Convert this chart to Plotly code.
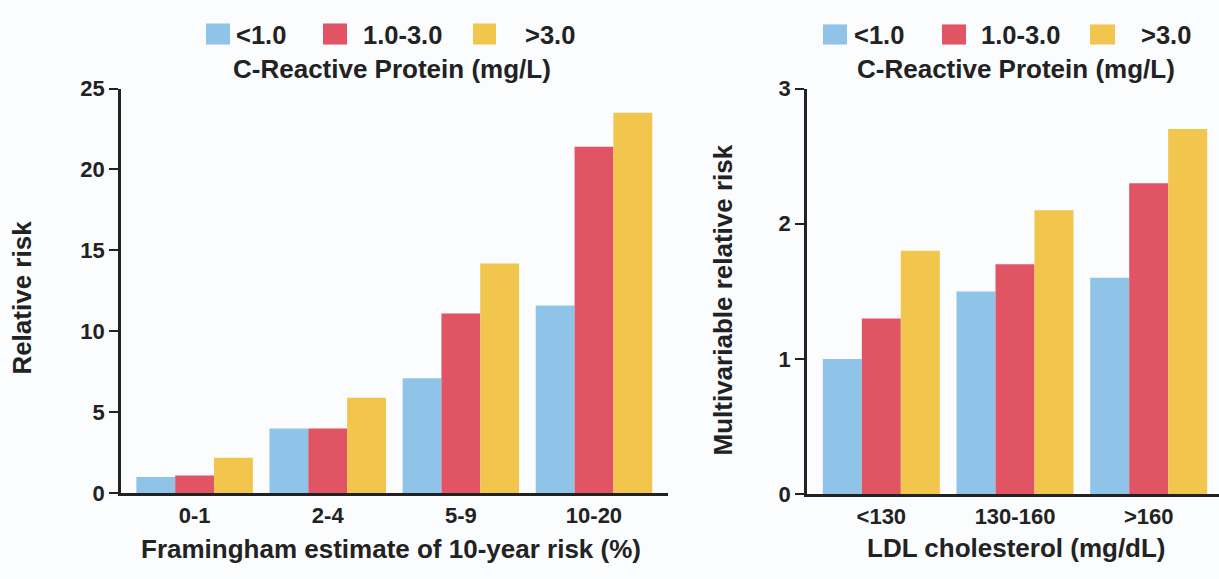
import plotly.graph_objects as go

# ---------------- data ----------------
crp_groups = ["<1.0", "1.0-3.0", ">3.0"]
colors = ["#8fc3e7", "#e05463", "#f2c54c"]

fram_categories = ["0-1", "2-4", "5-9", "10-20"]
fram_lt1 = [1.0, 4.0, 7.1, 11.6]
fram_1to3 = [1.1, 4.0, 11.1, 21.4]
fram_gt3 = [2.2, 5.9, 14.2, 23.5]

ldl_categories = ["<130", "130-160", ">160"]
ldl_lt1 = [1.0, 1.5, 1.6]
ldl_1to3 = [1.3, 1.7, 2.3]
ldl_gt3 = [1.8, 2.1, 2.7]

left_yticks = [0, 5, 10, 15, 20, 25]
right_yticks = [0, 1, 2, 3]

legend_title = "C-Reactive Protein (mg/L)"
left_xtitle = "Framingham estimate of 10-year risk (%)"
left_ytitle = "Relative risk"
right_xtitle = "LDL cholesterol (mg/dL)"
right_ytitle = "Multivariable relative risk"

# ---------------- layout helpers ----------------
W, H = 1219, 579
FONT = "Liberation Sans, Arial, Helvetica, sans-serif"
INK = "#222222"


def px(x):
    return x / W


def py(y):
    return 1 - y / H


fig = go.Figure()

left_series = [fram_lt1, fram_1to3, fram_gt3]
right_series = [ldl_lt1, ldl_1to3, ldl_gt3]

for name, vals, col in zip(crp_groups, left_series, colors):
    fig.add_trace(go.Bar(x=fram_categories, y=vals, name=name, marker_color=col,
                         marker_line_width=0, xaxis="x", yaxis="y",
                         showlegend=False, legendgroup=name))
for name, vals, col in zip(crp_groups, right_series, colors):
    fig.add_trace(go.Bar(x=ldl_categories, y=vals, name=name, marker_color=col,
                         marker_line_width=0, xaxis="x2", yaxis="y2",
                         showlegend=False, legendgroup=name))

common_x = dict(showgrid=False, zeroline=False, showline=True, linecolor=INK,
                linewidth=2.5, ticks="", ticklabelstandoff=1,
                tickfont=dict(family=FONT, size=22, color=INK, weight="bold"),
                fixedrange=True)
common_y = dict(showgrid=False, zeroline=False, showline=True, linecolor=INK,
                linewidth=2.5, ticks="outside", ticklen=9, tickwidth=2, tickcolor=INK,
                tickfont=dict(family=FONT, size=22, color=INK, weight="bold"),
                ticklabelstandoff=0, fixedrange=True)

fig.update_layout(
    width=W, height=H,
    margin=dict(l=0, r=0, t=0, b=0),
    paper_bgcolor="#fafcfd", plot_bgcolor="#fafcfd",
    barmode="group", bargap=0.125, bargroupgap=0,
    font=dict(family=FONT, color=INK),
    xaxis=dict(domain=[px(121), px(668)], range=[-0.553, 3.556], anchor="y",
               **common_x),
    yaxis=dict(domain=[py(503), py(80)], range=[0, 25], tickvals=left_yticks,
               anchor="x", **common_y),
    xaxis2=dict(domain=[px(807), 1.0], range=[-0.556, 2.526], anchor="y2",
                **common_x),
    yaxis2=dict(domain=[py(504), py(80)], range=[0, 3], tickvals=right_yticks,
                anchor="x2", **common_y),
)

annotations = []
shapes = []


def text(x, y, s, size, anchor="center", angle=0):
    annotations.append(dict(x=px(x), y=py(y), xref="paper", yref="paper", text=s,
                            showarrow=False, xanchor=anchor, yanchor="middle",
                            textangle=angle,
                            font=dict(family=FONT, size=size, color=INK, weight="bold")))


# legends (drawn as squares + labels)
legend_specs = [
    ([(206, 230), (323, 347), (473, 496)], [234, 361, 523], (12, 34), 391.5),
    ([(823, 847), (942, 966), (1090, 1115)], [852, 979, 1139], (13, 34), 1015.5),
]
for squares, labx, (y0, y1), tcx in legend_specs:
    for (x0, x1), lx, col, name in zip(squares, labx, colors, crp_groups):
        shapes.append(dict(type="rect", xref="paper", yref="paper",
                           x0=px(x0), x1=px(x1), y0=py(y1), y1=py(y0),
                           fillcolor=col, line_width=0))
        text(lx, (y0 + y1) / 2 + 1, name, 25.5, anchor="left")
    text(tcx, 60, legend_title, 26)

# axis titles
text(391, 561, left_xtitle, 26)
text(1016, 560, right_xtitle, 26)
text(22, 298.5, left_ytitle, 26, angle=-90)
text(723, 301.5, right_ytitle, 26, angle=-90)

fig.update_layout(annotations=annotations, shapes=shapes)

fig.write_html(
    "out.html",
    config={"displayModeBar": False},
    post_script="document.body.style.margin='0';document.body.style.overflow='hidden';",
)
